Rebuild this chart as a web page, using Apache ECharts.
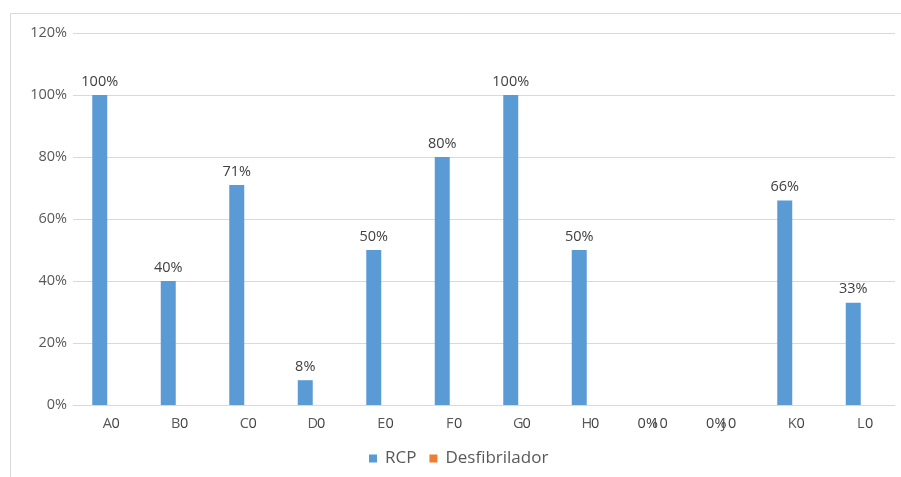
<!DOCTYPE html>
<html>
<head>
<meta charset="utf-8">
<script src="https://cdn.jsdelivr.net/npm/echarts@6/dist/echarts.min.js"></script>
<style>html,body{margin:0;padding:0;background:#fff;}#c{width:901px;height:477px;}</style>
</head>
<body>
<div id="c"></div>
<script>
const categories = ['A','B','C','D','E','F','G','H','I','J','K','L'];
const rcpValues = [100, 40, 71, 8, 50, 80, 100, 50, 0, 0, 66, 33];
const desfValues = [0, 0, 0, 0, 0, 0, 0, 0, 0, 0, 0, 0];
const yTicks = [0, 20, 40, 60, 80, 100, 120];

const FONT = 'Open Sans';
const chart = echarts.init(document.getElementById('c'));
chart.setOption({
  animation: false,
  textStyle: { fontFamily: FONT },
  graphic: [{
    type: 'rect', silent: true, z: -10,
    shape: { x: 10.5, y: 13.5, width: 1000, height: 1000 },
    style: { fill: 'none', stroke: '#d9d9d9', lineWidth: 1 }
  }],
  legend: {
    bottom: 5, left: 364,
    icon: 'rect', itemWidth: 8, itemHeight: 8, itemGap: 13,
    textStyle: { color: '#595959', fontSize: 17, fontFamily: FONT, padding: [0, 0, 0, 3] },
    data: ['RCP', 'Desfibrilador']
  },
  grid: { left: 73, top: 33, width: 822, height: 372 },
  xAxis: {
    type: 'category', data: categories,
    axisLine: { lineStyle: { color: '#d9d9d9' } },
    axisTick: { show: false },
    axisLabel: { color: '#595959', fontSize: 14.5, margin: 11, fontFamily: FONT }
  },
  yAxis: {
    type: 'value', min: yTicks[0], max: yTicks[yTicks.length - 1], interval: 20,
    axisLine: { show: false }, axisTick: { show: false },
    splitLine: { lineStyle: { color: '#d9d9d9' } },
    axisLabel: { color: '#595959', fontSize: 14.5, margin: 6, formatter: '{value}%', fontFamily: FONT }
  },
  series: [
    {
      name: 'RCP', type: 'bar', barWidth: 15, barGap: '0%',
      itemStyle: { color: '#5B9BD5' },
      label: { show: true, position: 'top', distance: 6, color: '#404040', fontSize: 14.5, formatter: '{c}%', fontFamily: FONT },
      data: rcpValues.map(v => v === 0 ? { value: v, label: { position: 'bottom', distance: 11 } } : v)
    },
    {
      name: 'Desfibrilador', type: 'bar', barWidth: 15,
      itemStyle: { color: '#ED7D31' },
      label: { show: true, position: 'bottom', distance: 11, offset: [1, 0], color: '#404040', fontSize: 14.5, formatter: '{c}', fontFamily: FONT },
      data: desfValues
    }
  ]
});
</script>
</body>
</html>
